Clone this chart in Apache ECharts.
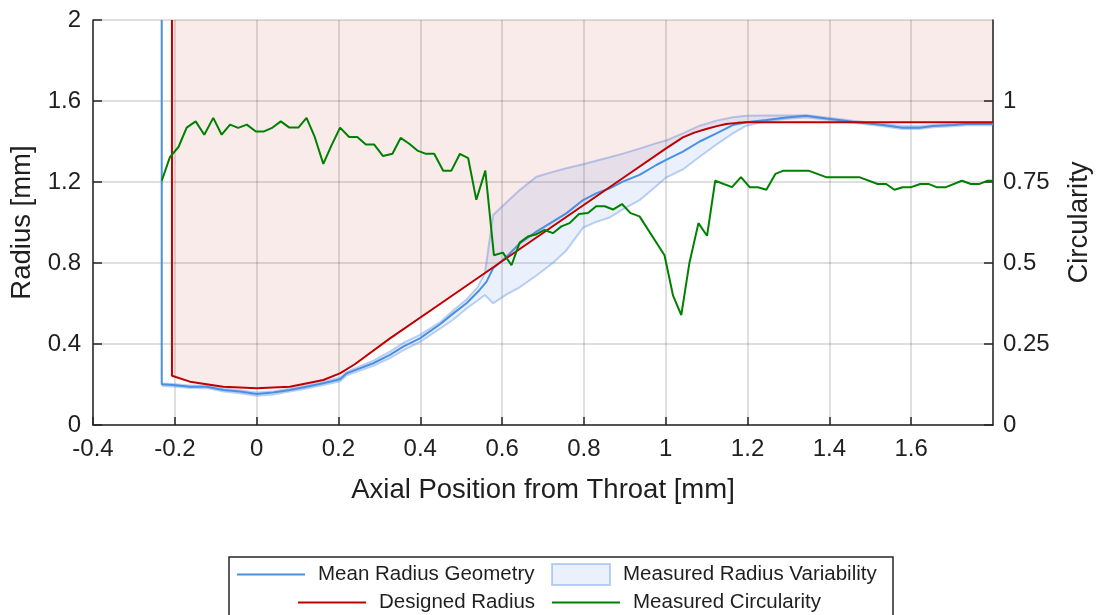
<!DOCTYPE html>
<html>
<head>
<meta charset="utf-8">
<script src="https://cdn.jsdelivr.net/npm/echarts@6/dist/echarts.min.js"></script>
<style>
  html, body { margin: 0; padding: 0; background: #fff; }
  #chart { width: 1109px; height: 615px; }
</style>
</head>
<body>
<div id="chart"></div>
<script>
// ---------- DATA ----------
// Designed radius (mm) vs axial position (mm)
const designedX = [-0.207, -0.207, -0.163, -0.0815, 0, 0.081, 0.163, 0.2035, 0.24, 0.326, 0.45, 0.7, 0.9, 1.0, 1.042, 1.07, 1.099, 1.125, 1.148, 1.175, 1.197, 1.8];
const designedR = [2.0, 0.243, 0.214, 0.189, 0.181, 0.189, 0.222, 0.255, 0.30, 0.428, 0.60, 0.948, 1.226, 1.365, 1.420, 1.444, 1.462, 1.476, 1.486, 1.492, 1.495, 1.495];

// Mean measured radius geometry
const meanX = [-0.232, -0.232, -0.204, -0.163, -0.122, -0.081, -0.041, 0, 0.041, 0.081, 0.122, 0.163, 0.204, 0.22, 0.285, 0.326, 0.358, 0.399, 0.45, 0.48, 0.513, 0.545, 0.562, 0.578, 0.611, 0.643, 0.684, 0.724, 0.757, 0.798, 0.830, 0.863, 0.895, 0.936, 0.977, 1.001, 1.042, 1.083, 1.124, 1.164, 1.197, 1.246, 1.294, 1.343, 1.392, 1.457, 1.531, 1.579, 1.62, 1.653, 1.702, 1.734, 1.8];
const meanR = [2.0, 0.201, 0.198, 0.189, 0.189, 0.173, 0.165, 0.153, 0.160, 0.173, 0.189, 0.206, 0.226, 0.255, 0.305, 0.346, 0.387, 0.428, 0.50, 0.55, 0.601, 0.667, 0.708, 0.774, 0.831, 0.897, 0.955, 1.004, 1.045, 1.111, 1.144, 1.169, 1.202, 1.235, 1.284, 1.309, 1.35, 1.40, 1.44, 1.481, 1.495, 1.506, 1.519, 1.527, 1.514, 1.498, 1.481, 1.468, 1.468, 1.476, 1.481, 1.486, 1.486];

// Measured radius variability band
const bandX = [-0.232, -0.204, -0.163, -0.122, -0.081, -0.041, 0, 0.041, 0.081, 0.122, 0.163, 0.204, 0.22, 0.285, 0.326, 0.358, 0.399, 0.45, 0.48, 0.513, 0.54, 0.558, 0.578, 0.611, 0.643, 0.684, 0.724, 0.757, 0.798, 0.830, 0.863, 0.895, 0.936, 0.977, 1.001, 1.042, 1.083, 1.124, 1.164, 1.197, 1.246, 1.294, 1.343, 1.392, 1.457, 1.531, 1.579, 1.62, 1.653, 1.702, 1.734, 1.8];
const bandLower = [0.192, 0.190, 0.183, 0.182, 0.165, 0.157, 0.145, 0.150, 0.165, 0.180, 0.197, 0.216, 0.245, 0.292, 0.330, 0.368, 0.410, 0.478, 0.520, 0.575, 0.615, 0.642, 0.601, 0.645, 0.680, 0.738, 0.800, 0.862, 0.975, 1.003, 1.025, 1.065, 1.110, 1.180, 1.222, 1.262, 1.325, 1.385, 1.440, 1.478, 1.500, 1.512, 1.520, 1.508, 1.492, 1.475, 1.462, 1.462, 1.470, 1.475, 1.480, 1.480];
const bandUpper = [0.205, 0.203, 0.195, 0.195, 0.180, 0.172, 0.160, 0.167, 0.180, 0.196, 0.214, 0.235, 0.262, 0.318, 0.362, 0.405, 0.445, 0.510, 0.565, 0.620, 0.680, 0.750, 1.037, 1.100, 1.160, 1.226, 1.250, 1.268, 1.288, 1.305, 1.322, 1.340, 1.365, 1.392, 1.405, 1.440, 1.478, 1.503, 1.520, 1.527, 1.528, 1.528, 1.530, 1.518, 1.503, 1.488, 1.476, 1.476, 1.482, 1.488, 1.492, 1.492];

// Measured circularity (right axis)
const circX = [-0.232, -0.212, -0.191, -0.171, -0.149, -0.128, -0.106, -0.0855, -0.065, -0.045, -0.024, -0.002, 0.018, 0.039, 0.059, 0.080, 0.102, 0.122, 0.142, 0.163, 0.183, 0.204, 0.226, 0.246, 0.267, 0.287, 0.309, 0.332, 0.352, 0.373, 0.393, 0.414, 0.434, 0.456, 0.476, 0.497, 0.517, 0.537, 0.559, 0.580, 0.602, 0.623, 0.643, 0.663, 0.684, 0.704, 0.724, 0.745, 0.765, 0.788, 0.810, 0.830, 0.851, 0.871, 0.893, 0.914, 0.936, 0.997, 1.018, 1.038, 1.058, 1.080, 1.101, 1.121, 1.162, 1.184, 1.205, 1.225, 1.246, 1.268, 1.288, 1.349, 1.392, 1.473, 1.518, 1.539, 1.559, 1.579, 1.6, 1.622, 1.642, 1.662, 1.685, 1.724, 1.746, 1.767, 1.787, 1.8];
const circY = [0.754, 0.827, 0.858, 0.918, 0.937, 0.896, 0.948, 0.896, 0.927, 0.917, 0.927, 0.906, 0.906, 0.918, 0.937, 0.918, 0.918, 0.948, 0.889, 0.806, 0.863, 0.918, 0.889, 0.889, 0.866, 0.866, 0.830, 0.837, 0.886, 0.868, 0.847, 0.837, 0.837, 0.785, 0.785, 0.837, 0.824, 0.695, 0.785, 0.524, 0.532, 0.493, 0.563, 0.582, 0.589, 0.602, 0.592, 0.613, 0.623, 0.651, 0.654, 0.675, 0.675, 0.665, 0.682, 0.654, 0.644, 0.524, 0.399, 0.339, 0.501, 0.623, 0.584, 0.754, 0.734, 0.765, 0.734, 0.734, 0.726, 0.775, 0.785, 0.785, 0.765, 0.765, 0.744, 0.744, 0.726, 0.734, 0.734, 0.744, 0.744, 0.734, 0.734, 0.754, 0.744, 0.744, 0.754, 0.754];

// Axis ticks
const radiusTicks = [0, 0.4, 0.8, 1.2, 1.6, 2];
const circTicks = [0, 0.25, 0.5, 0.75, 1];

// ---------- CHART ----------
const zip = (a, b) => a.map((v, i) => [v, b[i]]);
const FONT = '"Liberation Sans", Arial, Helvetica, sans-serif';
const TXT = '#1f1f1f';
const AX = '#262626';
const GRID = 'rgba(0,0,0,0.17)';

const MEAN_C = '#4a8fe0';
const RED_C = '#c00000';
const GREEN_C = '#008000';
const BAND_FILL = 'rgba(80,140,230,0.12)';
const BAND_EDGE = 'rgba(80,140,230,0.38)';

const chart = echarts.init(document.getElementById('chart'), null, { renderer: 'canvas' });

const legendCommon = {
  orient: 'horizontal',
  padding: 0,
  itemGap: 0,
  selectedMode: false,
  textStyle: { fontFamily: FONT, fontSize: 20.5, color: TXT, padding: [0, 0, 0, 8] },
  itemHeight: 2,
  itemWidth: 68
};

const option = {
  animation: false,
  backgroundColor: '#ffffff',
  grid: { left: 93, right: 116, top: 20, bottom: 190, containLabel: false },
  xAxis: {
    type: 'value', min: -0.4, max: 1.8, interval: 0.2,
    name: 'Axial Position from Throat [mm]', nameLocation: 'middle', nameGap: 51,
    nameTextStyle: { fontFamily: FONT, fontSize: 27.5, color: TXT },
    axisLine: { show: true, onZero: false, lineStyle: { color: AX, width: 1.5 } },
    axisTick: { show: true, inside: true, length: 8, lineStyle: { color: AX, width: 1.5 } },
    axisLabel: { fontFamily: FONT, fontSize: 24, color: TXT, margin: 12, showMaxLabel: false },
    splitLine: { show: true, lineStyle: { color: GRID, width: 1.5 } }
  },
  yAxis: [
    {
      type: 'value', min: 0, max: 2, interval: 0.4, position: 'left',
      name: 'Radius [mm]', nameLocation: 'middle', nameGap: 47, nameRotate: 90,
      nameTextStyle: { fontFamily: FONT, fontSize: 27.5, color: TXT },
      axisLine: { show: true, onZero: false, lineStyle: { color: AX, width: 1.5 } },
      axisTick: { show: true, inside: true, length: 9, lineStyle: { color: AX, width: 1.5 } },
      axisLabel: { fontFamily: FONT, fontSize: 24, color: TXT, margin: 12, customValues: radiusTicks },
      splitLine: { show: true, lineStyle: { color: GRID, width: 1.5 } }
    },
    {
      type: 'value', min: 0, max: 1.25, interval: 0.25, position: 'right',
      name: 'Circularity', nameLocation: 'middle', nameGap: 72, nameRotate: 90,
      nameTextStyle: { fontFamily: FONT, fontSize: 27.5, color: TXT },
      axisLine: { show: true, onZero: false, lineStyle: { color: AX, width: 1.5 } },
      axisTick: { show: true, inside: true, length: 9, lineStyle: { color: AX, width: 1.5 }, customValues: circTicks },
      axisLabel: { fontFamily: FONT, fontSize: 24, color: TXT, margin: 10, customValues: circTicks },
      splitLine: { show: false }
    }
  ],
  legend: [
    Object.assign({}, legendCommon, { left: 237, top: 564,
      data: [{ name: 'Mean Radius Geometry', icon: 'rect', itemStyle: { color: MEAN_C, borderWidth: 0 } }] }),
    Object.assign({}, legendCommon, {
      left: 551, top: 563, itemWidth: 58, itemHeight: 21,
      data: [{ name: 'Measured Radius Variability', icon: 'rect',
               itemStyle: { color: BAND_FILL, borderColor: BAND_EDGE, borderWidth: 2 } }]
    }),
    Object.assign({}, legendCommon, { left: 298, top: 592,
      data: [{ name: 'Designed Radius', icon: 'rect', itemStyle: { color: RED_C, borderWidth: 0 } }] }),
    Object.assign({}, legendCommon, { left: 552, top: 592,
      data: [{ name: 'Measured Circularity', icon: 'rect', itemStyle: { color: GREEN_C, borderWidth: 0 } }] })
  ],
  graphic: [
    {
      type: 'rect', z: 0, silent: true,
      shape: { x: 229, y: 557, width: 664, height: 80 },
      style: { fill: 'rgba(0,0,0,0)', stroke: AX, lineWidth: 1.5 }
    }
  ],
  series: [
    {
      name: 'Measured Radius Variability',
      type: 'custom',
      coordinateSystem: 'cartesian2d',
      xAxisIndex: 0, yAxisIndex: 0,
      data: bandX.map((x, i) => [x, bandLower[i], bandUpper[i]]),
      encode: { x: 0, y: [1, 2] },
      itemStyle: { color: BAND_FILL, borderColor: BAND_EDGE, borderWidth: 2 },
      renderItem: function (params, api) {
        if (params.dataIndex !== 0) return null;
        const pts = [];
        for (let i = 0; i < bandX.length; i++) pts.push(api.coord([bandX[i], bandUpper[i]]));
        for (let i = bandX.length - 1; i >= 0; i--) pts.push(api.coord([bandX[i], bandLower[i]]));
        return { type: 'polygon', shape: { points: pts }, style: { fill: BAND_FILL, stroke: null } };
      },
      z: 2
    },
    {
      name: 'bandLowerEdge', type: 'line', xAxisIndex: 0, yAxisIndex: 0,
      data: zip(bandX, bandLower), symbol: 'none',
      lineStyle: { color: BAND_EDGE, width: 2 }, z: 2, silent: true
    },
    {
      name: 'bandUpperEdge', type: 'line', xAxisIndex: 0, yAxisIndex: 0,
      data: zip(bandX, bandUpper), symbol: 'none',
      lineStyle: { color: BAND_EDGE, width: 2 }, z: 2, silent: true
    },
    {
      name: 'Mean Radius Geometry', type: 'line', xAxisIndex: 0, yAxisIndex: 0,
      data: zip(meanX, meanR), symbol: 'none',
      itemStyle: { color: MEAN_C },
      lineStyle: { color: MEAN_C, width: 2 }, z: 3
    },
    {
      name: 'Designed Radius', type: 'line', xAxisIndex: 0, yAxisIndex: 0,
      data: zip(designedX, designedR), symbol: 'none',
      itemStyle: { color: RED_C },
      lineStyle: { color: RED_C, width: 2 },
      areaStyle: { origin: 'end', color: 'rgba(192,0,0,0.115)' }, z: 3
    },
    {
      name: 'Measured Circularity', type: 'line', xAxisIndex: 0, yAxisIndex: 1,
      data: zip(circX, circY), symbol: 'none',
      itemStyle: { color: GREEN_C },
      lineStyle: { color: GREEN_C, width: 2 }, z: 4
    }
  ]
};

chart.setOption(option);
</script>
</body>
</html>
